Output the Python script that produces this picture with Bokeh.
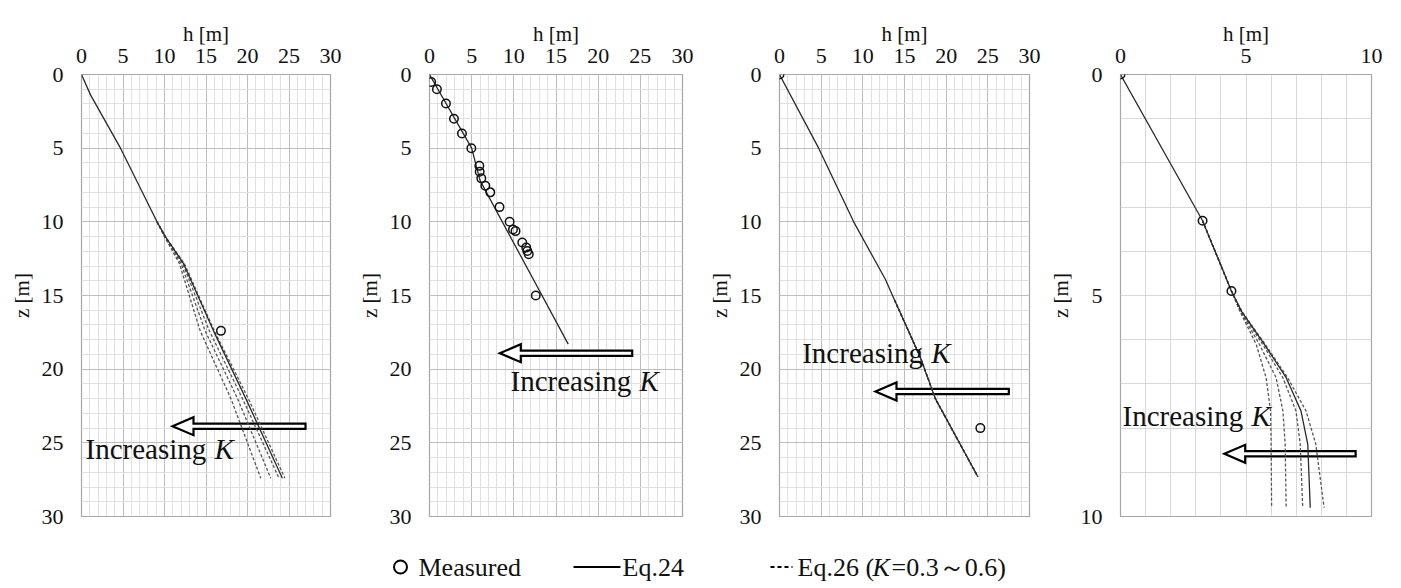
from bokeh.plotting import figure
from bokeh.models import Range1d, FixedTicker, Label
from bokeh.layouts import row, column
from bokeh.embed import file_html
from bokeh.resources import INLINE

SERIF = "Liberation Serif"

# ---------------- data (h [m], z [m]) ----------------
# Panel 1
p1_meas_h = [16.8]
p1_meas_z = [17.4]
p1_eq24_z = [0, 1.4, 5, 10, 11, 12.84, 17.4, 22, 27.4]
p1_eq24_h = [0, 1.1, 4.7, 9.1, 10.1, 12.3, 15.9, 19.8, 24.2]
p1_eq26_z = [10, 11, 12.84, 17.4, 22, 27.4]
p1_eq26_h = {
    "0.3": [9.1, 10.1, 12.4, 16.0, 20.1, 24.5],
    "0.4": [9.1, 10.1, 12.2, 15.4, 19.4, 23.8],
    "0.5": [9.1, 10.0, 12.0, 14.9, 18.8, 22.8],
    "0.6": [9.1, 10.0, 11.8, 14.3, 18.0, 21.6],
}

# Panel 2
p2_meas_h = [0.2, 0.88, 1.95, 2.9, 3.85, 4.96, 5.91, 5.95, 6.14, 6.62, 7.21,
             8.3, 9.5, 9.9, 10.2, 11.0, 11.47, 11.6, 11.77, 12.6]
p2_meas_z = [0.51, 1.0, 1.97, 3.0, 4.0, 5.0, 6.2, 6.6, 7.05, 7.55, 8.0,
             9.0, 10.0, 10.52, 10.63, 11.4, 11.75, 11.98, 12.2, 15.0]
p2_eq24_z = [0, 5.0, 7.2, 18.3]
p2_eq24_h = [0, 5.0, 6.0, 16.45]

# Panel 3
p3_meas_h = [0, 24.1]
p3_meas_z = [0, 24.0]
p3_eq24_z = [0, 5, 10, 13.9, 15.3, 19.2, 22, 27.3]
p3_eq24_h = [0, 4.7, 8.9, 12.7, 13.8, 16.9, 18.7, 23.8]
p3_eq26_z = [15.3, 19.2, 22, 27.3]
p3_eq26_h = {
    "0.3": [13.8, 16.9, 18.7, 23.8],
    "0.4": [13.8, 16.9, 18.7, 23.8],
    "0.5": [13.8, 16.9, 18.7, 23.8],
    "0.6": [13.8, 16.9, 18.7, 23.8],
}

# Panel 4
p4_meas_h = [0, 3.27, 4.42]
p4_meas_z = [0, 3.31, 4.9]
p4_eq24_z = [0, 3.31, 4.9, 5.36, 6.11, 6.86, 7.61, 8.36, 9.8]
p4_eq24_h = [0, 3.27, 4.42, 4.82, 5.74, 6.6, 7.19, 7.46, 7.56]
p4_eq26_z = [3.31, 4.9, 5.36, 6.11, 6.86, 7.61, 8.36, 9.8]
p4_eq26_h = {
    "0.3": [3.27, 4.42, 4.84, 5.77, 6.66, 7.39, 7.78, 8.11],
    "0.4": [3.27, 4.42, 4.80, 5.67, 6.47, 6.99, 7.16, 7.26],
    "0.5": [3.27, 4.42, 4.78, 5.54, 6.20, 6.47, 6.56, 6.60],
    "0.6": [3.27, 4.42, 4.76, 5.41, 5.80, 5.98, 6.00, 6.02],
}

ticks_30 = [0, 5, 10, 15, 20, 25, 30]
ticks_10 = [0, 5, 10]

# ---------------- layout specs (page px, origin at page top-left) ----------------
ROW_H = 533
FT, FH = 74, 442          # common frame top / height (row aligns frames)
panels = [
    dict(fig_left=0,    w=350, fl=81,   fw=249, xmax=30, ymax=30,
         arrow=(305, 172, 425.7), inc=(85, 448.5)),
    dict(fig_left=350,  w=350, fl=429,  fw=253, xmax=30, ymax=30,
         arrow=(631.7, 499.3, 352.7), inc=(510, 380.5)),
    dict(fig_left=700,  w=345, fl=779,  fw=250, xmax=30, ymax=30,
         arrow=(1008.3, 875, 391), inc=(801.7, 352.5)),
    dict(fig_left=1045, w=355, fl=1118, fw=253, xmax=10, ymax=10,
         arrow=(1355, 1222.7, 453.3), inc=(1120, 415.4)),
]

def to_data(s, px, py):
    return ((px - s["fl"]) / s["fw"] * s["xmax"], (py - FT) / FH * s["ymax"])

def to_screen(s, px, py):
    # screen units: relative to frame, origin bottom-left, y up
    return (px - s["fl"], FT + FH - py)

def slabel(p, s, px, py, text, size, italic=False, align="left"):
    x, y = to_screen(s, px, py)
    p.add_layout(Label(x=x, y=y, x_units="screen", y_units="screen", text=text,
                       text_font=SERIF, text_font_size=size,
                       text_font_style="italic" if italic else "normal",
                       text_align=align, text_baseline="middle", text_color="#111111"))

def make_panel(s, fine_grid):
    top = FT
    bottom = ROW_H - FT - FH
    left = s["fl"] - s["fig_left"]
    right = s["w"] - left - s["fw"]
    p = figure(width=s["w"], height=ROW_H, title=None,
               x_range=Range1d(0, s["xmax"]), y_range=Range1d(s["ymax"], 0),
               x_axis_location="above", toolbar_location=None, output_backend="svg",
               min_border_left=left, min_border_right=right,
               min_border_top=top, min_border_bottom=bottom)
    p.background_fill_color = "white"
    p.border_fill_color = "white"
    p.outline_line_color = "#a6a6a6"
    p.outline_line_width = 1.2
    if fine_grid:
        major = ticks_30
        minor = list(range(0, 31))
        for ax, gr in ((p.xaxis, p.xgrid), (p.yaxis, p.ygrid)):
            ax.ticker = FixedTicker(ticks=major, minor_ticks=minor)
            gr.ticker = FixedTicker(ticks=major, minor_ticks=minor)
            gr.grid_line_color = "#bdbdbd"
            gr.grid_line_width = 1
            gr.minor_grid_line_color = "#e0e0e0"
            gr.minor_grid_line_width = 1
    else:
        for ax, gr in ((p.xaxis, p.xgrid), (p.yaxis, p.ygrid)):
            ax.ticker = FixedTicker(ticks=ticks_10)
            gr.ticker = FixedTicker(ticks=list(range(0, 11)))
            gr.grid_line_color = "#d9d9d9"
            gr.grid_line_width = 1
    for ax in (p.xaxis, p.yaxis):
        ax.axis_line_color = None
        ax.major_tick_line_color = None
        ax.minor_tick_line_color = None
        ax.major_tick_out = 0
        ax.major_tick_in = 0
        ax.minor_tick_out = 0
        ax.minor_tick_in = 0
        ax.major_label_text_font = SERIF
        ax.major_label_text_font_size = "22px"
        ax.major_label_text_color = "#111111"
        ax.axis_label_text_font = SERIF
        ax.axis_label_text_font_size = "21px"
        ax.axis_label_text_font_style = "normal"
        ax.axis_label_text_color = "#111111"
    p.xaxis.major_label_standoff = 12
    p.yaxis.major_label_standoff = 18
    p.xaxis.axis_label = "h [m]"
    p.yaxis.axis_label = "z [m]"
    p.xaxis.axis_label_standoff = 0
    p.yaxis.axis_label_standoff = 5

    # "Increasing K" block arrow
    tail, tip, ay = s["arrow"]
    hl, hh, sh = 21, 9, 2.6
    pts = [(tip, ay), (tip + hl, ay - hh), (tip + hl, ay - sh), (tail, ay - sh),
           (tail, ay + sh), (tip + hl, ay + sh), (tip + hl, ay + hh)]
    dpts = [to_data(s, a, b) for a, b in pts]
    p.patch([a for a, b in dpts], [b for a, b in dpts], fill_color="white",
            line_color="black", line_width=2.2, line_join="miter")
    ix, iy = s["inc"]
    fs = 29
    slabel(p, s, ix, iy, "Increasing", f"{fs}px")
    slabel(p, s, ix + 4.45 * fs, iy, "K", f"{fs}px", italic=True)
    return p

def draw(p, eq24_h, eq24_z, eq26_h, eq26_z, meas_h, meas_z):
    if eq26_h:
        for k in ["0.6", "0.5", "0.4", "0.3"]:
            p.line(eq26_h[k], eq26_z, line_color="#555555", line_width=1.3, line_dash="3 2")
    p.line(eq24_h, eq24_z, line_color="#2a2a2a", line_width=1.3)
    p.scatter(meas_h, meas_z, marker="circle", size=8.5, fill_color=None,
              line_color="#111111", line_width=1.5)

p1 = make_panel(panels[0], True)
draw(p1, p1_eq24_h, p1_eq24_z, p1_eq26_h, p1_eq26_z, p1_meas_h, p1_meas_z)
p2 = make_panel(panels[1], True)
draw(p2, p2_eq24_h, p2_eq24_z, None, None, p2_meas_h, p2_meas_z)
p3 = make_panel(panels[2], True)
draw(p3, p3_eq24_h, p3_eq24_z, p3_eq26_h, p3_eq26_z, p3_meas_h, p3_meas_z)
p4 = make_panel(panels[3], False)
draw(p4, p4_eq24_h, p4_eq24_z, p4_eq26_h, p4_eq26_z, p4_meas_h, p4_meas_z)

# ---------------- legend strip (page coordinates) ----------------
LEG_H = 54
LEG_BOTTOM = ROW_H + LEG_H
leg = figure(width=1400, height=LEG_H, title=None, x_range=Range1d(0, 1400),
             y_range=Range1d(LEG_BOTTOM, ROW_H),
             toolbar_location=None, output_backend="svg", min_border=0,
             x_axis_type=None, y_axis_type=None)
leg.grid.visible = False
leg.outline_line_color = None
leg.background_fill_color = "white"
leg.border_fill_color = "white"
LY = 566.5
LFS = "26px"
def leg_label(x, text, italic=False):
    leg.add_layout(Label(x=x, y=LEG_BOTTOM - LY, x_units="screen", y_units="screen",
                         text=text, text_font=SERIF, text_font_size=LFS,
                         text_font_style="italic" if italic else "normal",
                         text_baseline="middle", text_color="#111111"))
leg.scatter([400], [LY], marker="circle", size=13, fill_color=None, line_color="black", line_width=2)
leg_label(418, "Measured")
leg.line([573, 620], [LY, LY], line_color="black", line_width=2)
leg_label(622, "Eq.24")
leg.line([770, 792], [LY, LY], line_color="black", line_width=2, line_dash="4 3")
leg_label(797, "Eq.26 (")
leg_label(872, "K", italic=True)
leg_label(891, "=0.3～0.6)")

layout = column(row(p1, p2, p3, p4), leg)
open("out.html", "w").write(file_html(layout, INLINE))
